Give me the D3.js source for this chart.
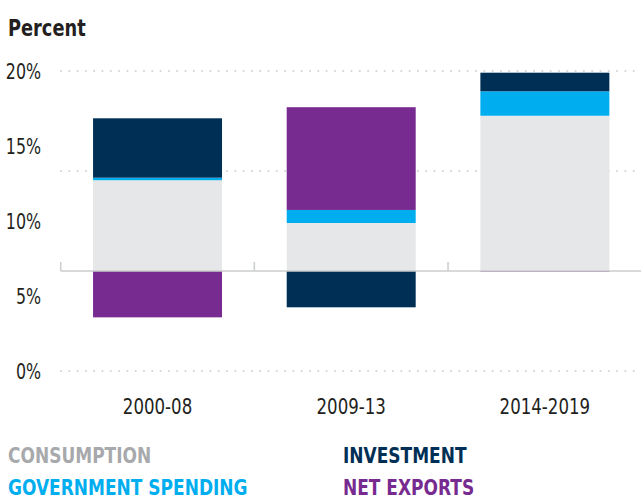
<!DOCTYPE html>
<html>
<head>
<meta charset="utf-8">
<script src="https://cdn.jsdelivr.net/npm/d3@7"></script>
<style>
	body { margin: 0; background: #fff; }
	svg { display: block; font-family: "DejaVu Sans Condensed", "DejaVu Sans", sans-serif; }
</style>
</head>
<body>
<svg id="chart" width="641" height="501"></svg>
<script>

// data (percentage-point contributions)
let periods = ['2000-08', '2009-13', '2014-2019'];
let consumption = [6.05, 3.2, 10.35];
let government = [0.17, 0.87, 1.63];
let investment = [3.96, -2.42, 1.24];
let netExports = [-3.09, 6.85, -0.05];

let seriesKeys = ['consumption', 'government', 'investment', 'netExports'];
let seriesNames = ['CONSUMPTION', 'GOVERNMENT SPENDING', 'INVESTMENT', 'NET EXPORTS'];
let yTicks = [0, 5, 10, 15, 20];
let baseValue = 20 / 3;   // bars start at this level of the axis

let colors = {
	consumption: '#e6e7e8',
	government: '#00aeef',
	investment: '#002f56',
	netExports: '#772b90'
};
let legendText = {
	consumption: '#a7a9ac',
	government: '#00aeef',
	investment: '#002f56',
	netExports: '#772b90'
};

let rows = periods.map((p, i) => ({
	period: p,
	consumption: consumption[i],
	government: government[i],
	investment: investment[i],
	netExports: netExports[i]
}));

let svg = d3.select('#chart');

// no condensed face installed: squeeze the glyphs horizontally
function placeText(sel, fx, fy, sx) {
	sel.attr('transform', (d, i) => `translate(${fx(d, i)},${fy(d, i)}) scale(${sx},1)`);
}

let x = d3.scaleBand()
	.domain(periods)
	.range([60.7, 641.7])
	.paddingInner(0.334)
	.paddingOuter(0.167);

let y = d3.scaleLinear()
	.domain([0, 20])
	.range([371, 71]);

// title
svg.append('text')
	.attr('transform', 'translate(8,36) scale(0.86,1)')
	.attr('font-size', 23)
	.attr('font-weight', 'bold')
	.attr('fill', '#231f20')
	.text('Percent');

// dotted grid (thirds of the range)
let grid = svg.append('g');
[0, 40 / 3, 20].forEach(v => {
	grid.append('line')
		.attr('x1', 61).attr('x2', 641)
		.attr('y1', y(v)).attr('y2', y(v))
		.attr('stroke', '#d4d5d6')
		.attr('stroke-width', 2.2)
		.attr('stroke-linecap', 'round')
		.attr('stroke-dasharray', '0 8.3');
});

// y labels
svg.append('g')
	.selectAll('text')
	.data(yTicks)
	.join('text')
	.call(placeText, () => 41, d => y(d), 0.8)
	.attr('dy', '0.36em')
	.attr('text-anchor', 'end')
	.attr('font-size', 22)
	.attr('fill', '#231f20')
	.text(d => d + '%');

// stacked bars
let stack = d3.stack()
	.keys(seriesKeys)
	.offset(d3.stackOffsetDiverging);
let layers = stack(rows);

svg.append('g')
	.selectAll('g')
	.data(layers)
	.join('g')
	.attr('fill', d => colors[d.key])
	.selectAll('rect')
	.data(d => d)
	.join('rect')
	.attr('x', d => x(d.data.period))
	.attr('width', x.bandwidth())
	.attr('y', d => y(baseValue + Math.max(d[0], d[1])))
	.attr('height', d => Math.abs(y(baseValue + d[0]) - y(baseValue + d[1])));

// base axis line with ticks at band edges
let axisY = y(baseValue);
let axis = svg.append('g');
axis.append('line')
	.attr('x1', 60.7).attr('x2', 641)
	.attr('y1', axisY).attr('y2', axisY)
	.attr('stroke', '#cbcccd')
	.attr('stroke-width', 1.5);
let step = x.step();
axis.selectAll('.tick')
	.data(periods)
	.join('line')
	.attr('class', 'tick')
	.attr('x1', (d, i) => 60.7 + i * step)
	.attr('x2', (d, i) => 60.7 + i * step)
	.attr('y1', axisY - 9)
	.attr('y2', axisY)
	.attr('stroke', '#cbcccd')
	.attr('stroke-width', 1.5);

// x labels
svg.append('g')
	.selectAll('text')
	.data(periods)
	.join('text')
	.call(placeText, d => x(d) + x.bandwidth() / 2, () => 414, 0.84)
	.attr('text-anchor', 'middle')
	.attr('font-size', 22)
	.attr('fill', '#231f20')
	.text(d => d);

// legend
let legendPos = [
	{ x: 8, y: 463 },
	{ x: 8, y: 495 },
	{ x: 343, y: 463 },
	{ x: 343, y: 495 }
];
svg.append('g')
	.selectAll('text')
	.data(seriesKeys)
	.join('text')
	.call(placeText, (d, i) => legendPos[i].x, (d, i) => legendPos[i].y, 0.86)
	.attr('font-size', 22)
	.attr('font-weight', 'bold')
	.attr('fill', d => legendText[d])
	.text((d, i) => seriesNames[i]);

</script>
</body>
</html>
